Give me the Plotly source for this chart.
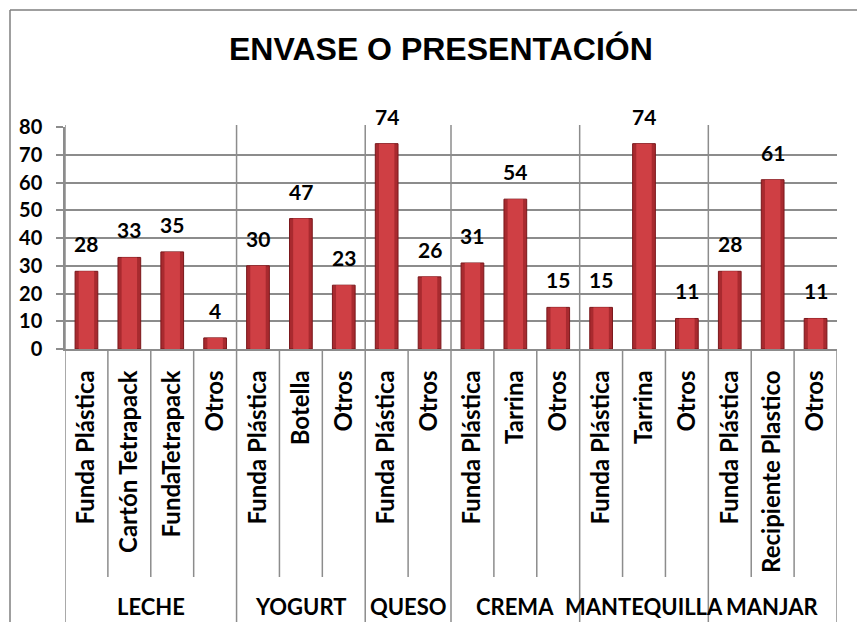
import plotly.graph_objects as go

grupos = ['LECHE', 'YOGURT', 'QUESO', 'CREMA', 'MANTEQUILLA', 'MANJAR']
envases = [
    ['Funda Plástica', 'Cartón Tetrapack', 'FundaTetrapack', 'Otros'],
    ['Funda Plástica', 'Botella', 'Otros'],
    ['Funda Plástica', 'Otros'],
    ['Funda Plástica', 'Tarrina', 'Otros'],
    ['Funda Plástica', 'Tarrina', 'Otros'],
    ['Funda Plástica', 'Recipiente Plastico', 'Otros'],
]
valores = [28, 33, 35, 4, 30, 47, 23, 74, 26, 31, 54, 15, 15, 74, 11, 28, 61, 11]
y_ticks = [0, 10, 20, 30, 40, 50, 60, 70, 80]

etiquetas = [e for g in envases for e in g]
x = list(range(len(etiquetas)))

# pixel layout of the plot area
W, H = 857, 622
L, R, T, B = 65, 837, 127, 349
gris = '#8c8c8c'
fuente = 'Lato, Calibri, sans-serif'


def px_x(p):
    return (p - L) / (R - L)


def px_y(p):
    return (B - p) / (B - T)


fig = go.Figure()
# darker body + lighter core to hint at the rounded excel bars
fig.add_trace(go.Bar(
    x=x, y=valores, width=0.53,
    marker=dict(color='#a82a2f', line=dict(color='#7a171b', width=1)),
    hoverinfo='y',
))
fig.add_trace(go.Bar(
    x=x, y=valores, width=0.36,
    marker=dict(color='#cf3f44', line=dict(width=0)),
    hoverinfo='skip',
))

anots = []
for xi, v in zip(x, valores):
    anots.append(dict(x=xi, y=v, text=str(v), showarrow=False, yanchor='bottom',
                      yshift=13, font=dict(family=fuente, size=21, color='black', weight='bold')))

# group labels and separators
shapes = []
inicio = 0
for g, items in zip(grupos, envases):
    fin = inicio + len(items)
    anots.append(dict(x=(inicio + fin - 1) / 2, y=px_y(622), xref='x', yref='paper',
                      text=g, showarrow=False, yanchor='bottom',
                      font=dict(family=fuente, size=22, color='black', weight='bold')))
    shapes.append(dict(type='line', xref='x', yref='paper', x0=inicio - 0.5, x1=inicio - 0.5,
                       y0=px_y(T - 2), y1=px_y(H + 5), line=dict(color=gris, width=1.5)))
    for k in range(1, len(items)):
        shapes.append(dict(type='line', xref='x', yref='paper', x0=inicio + k - 0.5, x1=inicio + k - 0.5,
                           y0=0, y1=px_y(577), line=dict(color=gris, width=1.5)))
    inicio = fin
shapes.append(dict(type='line', xref='x', yref='paper', x0=inicio - 0.5, x1=inicio - 0.5,
                   y0=0, y1=px_y(H + 5), line=dict(color=gris, width=1.5)))

# outer chart frame
shapes.append(dict(type='line', xref='paper', yref='paper', x0=px_x(10), x1=px_x(10),
                   y0=px_y(10), y1=px_y(H + 5), line=dict(color='#7f7f7f', width=1.5)))
shapes.append(dict(type='line', xref='paper', yref='paper', x0=px_x(10), x1=px_x(W + 5),
                   y0=px_y(10), y1=px_y(10), line=dict(color='#7f7f7f', width=1.5)))

anots.append(dict(x=px_x(441), y=px_y(49), xref='paper', yref='paper', text='ENVASE O PRESENTACIÓN',
                  showarrow=False, yanchor='middle', xanchor='center',
                  font=dict(family='Liberation Sans, Arial', size=32, color='black', weight='bold')))

fig.update_layout(
    width=W, height=H,
    margin=dict(l=L, r=W - R, t=T, b=H - B),
    plot_bgcolor='white', paper_bgcolor='white',
    showlegend=False, barmode='overlay',
    annotations=anots, shapes=shapes,
)
fig.update_xaxes(
    range=[-0.5, len(x) - 0.5], tickvals=x, ticktext=etiquetas, tickangle=-90,
    showgrid=False, showline=True, linecolor=gris, linewidth=1.5, ticks='',
    ticklabelstandoff=10,
    tickfont=dict(family=fuente, size=24, color='black', weight='bold'),
)
fig.update_yaxes(
    range=[0, 80], tickvals=y_ticks, showgrid=True, gridcolor=gris, gridwidth=1.5,
    showline=True, linecolor=gris, linewidth=1.5, ticks='outside', ticklen=7, tickcolor=gris,
    tickwidth=1.5, ticklabelstandoff=10, zeroline=False,
    tickfont=dict(family=fuente, size=20, color='black', weight='bold'),
)

fig.write_html('out.html', config={'displayModeBar': False},
               post_script="document.body.style.margin='0';")
